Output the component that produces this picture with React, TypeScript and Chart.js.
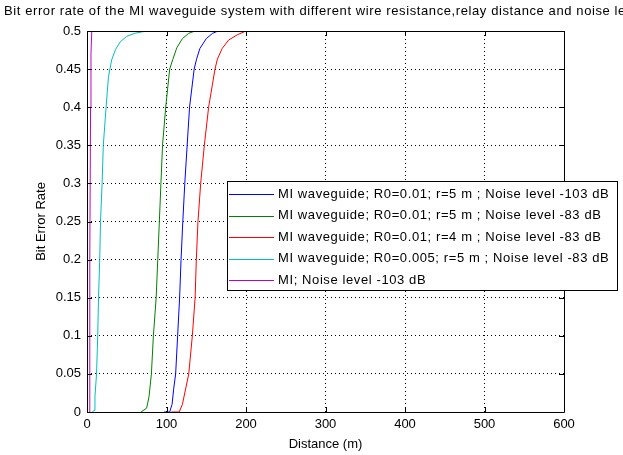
import React, { useEffect, useRef } from "react";
import { Chart, registerables } from "chart.js";

Chart.register(...registerables);

const titleText =
  "Bit error rate of the MI waveguide system with different wire resistance,relay distance and noise level";
const xTitle = "Distance (m)";
const yTitle = "Bit Error Rate";

const xTicks = [0, 100, 200, 300, 400, 500, 600];
const yTicks = [0, 0.05, 0.1, 0.15, 0.2, 0.25, 0.3, 0.35, 0.4, 0.45, 0.5];

const seriesLabels = [
  "MI waveguide; R0=0.01; r=5 m ; Noise level -103 dB",
  "MI waveguide; R0=0.01; r=5 m ; Noise level -83 dB",
  "MI waveguide; R0=0.01; r=4 m ; Noise level -83 dB",
  "MI waveguide; R0=0.005; r=5 m ; Noise level -83 dB",
  "MI; Noise level -103 dB",
];
const seriesColors = ["#0000ff", "#008000", "#ff0000", "#00bfbf", "#bf00bf"];

const blueX = [97, 104, 107, 109, 111.5, 114, 116.5, 118.3, 120.5, 123, 126, 129, 134.8, 137.8, 142, 150, 158, 165, 167];
const blueY = [0, 0, 0.01, 0.03, 0.05, 0.1, 0.15, 0.2, 0.25, 0.3, 0.35, 0.4, 0.45, 0.463, 0.477, 0.49, 0.497, 0.5, 0.5];

const greenX = [68, 75, 78, 81, 83.5, 87, 89, 91, 93, 95, 99, 104, 108, 113, 120, 128, 136];
const greenY = [0, 0.005, 0.02, 0.05, 0.1, 0.15, 0.2, 0.25, 0.3, 0.35, 0.4, 0.45, 0.463, 0.478, 0.49, 0.497, 0.5];

const redX = [106, 116, 120, 124, 128, 132.5, 136, 137.5, 139.6, 143, 147.6, 153, 161, 164, 170, 178, 189, 200, 211];
const redY = [0, 0, 0.01, 0.03, 0.05, 0.1, 0.15, 0.2, 0.25, 0.3, 0.35, 0.4, 0.45, 0.463, 0.477, 0.488, 0.495, 0.5, 0.5];

const cyanX = [6.5, 9, 10, 12, 13.5, 14.5, 16, 17, 19, 20.5, 24, 27, 31, 36, 42, 50, 60, 75, 95];
const cyanY = [0, 0.002, 0.02, 0.05, 0.1, 0.15, 0.2, 0.25, 0.3, 0.35, 0.4, 0.44, 0.462, 0.476, 0.486, 0.493, 0.497, 0.5, 0.5];

const magentaX = [3, 3.5, 4.5, 5, 6];
const magentaY = [0, 0.2, 0.4, 0.47, 0.5];

const FONT = "'Liberation Sans', Arial, Helvetica, sans-serif";
const TEXT_SPACING = "0.6px";

function pts(xs: number[], ys: number[]) {
  return xs.map((x, i) => ({ x, y: ys[i] }));
}

const framePlugin = {
  id: "frame",
  afterDatasetsDraw(chart: any) {
    const { ctx, chartArea: a, scales } = chart;
    ctx.save();
    ctx.strokeStyle = "#000";
    ctx.lineWidth = 1;
    ctx.beginPath();
    ctx.rect(Math.round(a.left) + 0.5, Math.round(a.top) + 0.5, Math.round(a.right - a.left), Math.round(a.bottom - a.top));
    ctx.stroke();
    const tl = 5;
    ctx.beginPath();
    xTicks.forEach((v) => {
      const x = Math.round(scales.x.getPixelForValue(v)) + 0.5;
      ctx.moveTo(x, a.bottom);
      ctx.lineTo(x, a.bottom - tl);
      ctx.moveTo(x, a.top);
      ctx.lineTo(x, a.top + tl);
    });
    yTicks.forEach((v) => {
      const y = Math.round(scales.y.getPixelForValue(v)) + 0.5;
      ctx.moveTo(a.left, y);
      ctx.lineTo(a.left + tl, y);
      ctx.moveTo(a.right, y);
      ctx.lineTo(a.right - tl, y);
    });
    ctx.stroke();
    ctx.restore();
  },
  afterDraw(chart: any) {
    const { ctx } = chart;
    ctx.save();
    (ctx as any).letterSpacing = TEXT_SPACING;
    // title
    ctx.fillStyle = "#000";
    ctx.font = `13px ${FONT}`;
    ctx.textAlign = "left";
    ctx.textBaseline = "middle";
    ctx.fillText(titleText, 4, 11);
    // legend
    const bx = 227.5, by = 181.5, bw = 390, bh = 109;
    ctx.fillStyle = "#fff";
    ctx.fillRect(bx, by, bw, bh);
    ctx.strokeStyle = "#000";
    ctx.lineWidth = 1;
    ctx.strokeRect(bx, by, bw, bh);
    const ds = chart.data.datasets;
    ds.forEach((d: any, i: number) => {
      const y = 194 + i * 21.6;
      ctx.strokeStyle = d.borderColor;
      ctx.beginPath();
      ctx.moveTo(229, Math.round(y) + 0.5);
      ctx.lineTo(274, Math.round(y) + 0.5);
      ctx.stroke();
      ctx.fillStyle = "#000";
      ctx.textBaseline = "middle";
      ctx.fillText(d.label, 278, y);
    });
    ctx.restore();
  },
};

export default function App() {
  const ref = useRef<HTMLCanvasElement | null>(null);
  useEffect(() => {
    document.body.style.margin = "0";
    const series = [
      [blueX, blueY],
      [greenX, greenY],
      [redX, redY],
      [cyanX, cyanY],
      [magentaX, magentaY],
    ];
    const chart = new Chart(ref.current as HTMLCanvasElement, {
      type: "line",
      data: {
        datasets: series.map((s, i) => ({
          label: seriesLabels[i],
          data: pts(s[0], s[1]),
          borderColor: seriesColors[i],
          backgroundColor: seriesColors[i],
          borderWidth: 1,
          pointRadius: 0,
          tension: 0,
          fill: false,
        })),
      },
      options: {
        animation: false,
        responsive: false,
        devicePixelRatio: 1,
        layout: { padding: { left: 0, right: 59, top: 31, bottom: 0 } },
        plugins: {
          legend: { display: false },
          title: { display: false },
          tooltip: { enabled: false },
        },
        scales: {
          x: {
            type: "linear",
            min: 0,
            max: 600,
            afterFit: (s: any) => {
              s.height = 43;
            },
            afterBuildTicks: (s: any) => {
              s.ticks = xTicks.map((v) => ({ value: v }));
            },
            border: { display: false, dash: [1, 3] },
            grid: {
              color: "#000",
              lineWidth: 1,
              drawTicks: false,
            },
            ticks: {
              color: "#000",
              font: { family: FONT, size: 13 },
              padding: 5,
              maxRotation: 0,
            },
            title: {
              display: true,
              text: xTitle,
              color: "#000",
              font: { family: FONT, size: 13 },
              padding: { top: 0, bottom: 3 },
            },
          },
          y: {
            type: "linear",
            min: 0,
            max: 0.5,
            afterFit: (s: any) => {
              s.width = 87;
            },
            afterBuildTicks: (s: any) => {
              s.ticks = yTicks.map((v) => ({ value: v }));
            },
            border: { display: false, dash: [1, 3] },
            grid: {
              color: "#000",
              lineWidth: 1,
              drawTicks: false,
            },
            ticks: {
              color: "#000",
              font: { family: FONT, size: 13 },
              padding: 6,
              callback: (v: any) => String(Math.round(Number(v) * 100) / 100),
            },
            title: {
              display: true,
              text: yTitle,
              color: "#000",
              font: { family: FONT, size: 13 },
              padding: { top: 34, bottom: 0 },
            },
          },
        },
      } as any,
      plugins: [framePlugin],
    });
    return () => chart.destroy();
  }, []);
  return (
    <div style={{ width: 623, height: 455, overflow: "hidden", background: "#fff" }}>
      <canvas ref={ref} width={623} height={455} />
    </div>
  );
}
